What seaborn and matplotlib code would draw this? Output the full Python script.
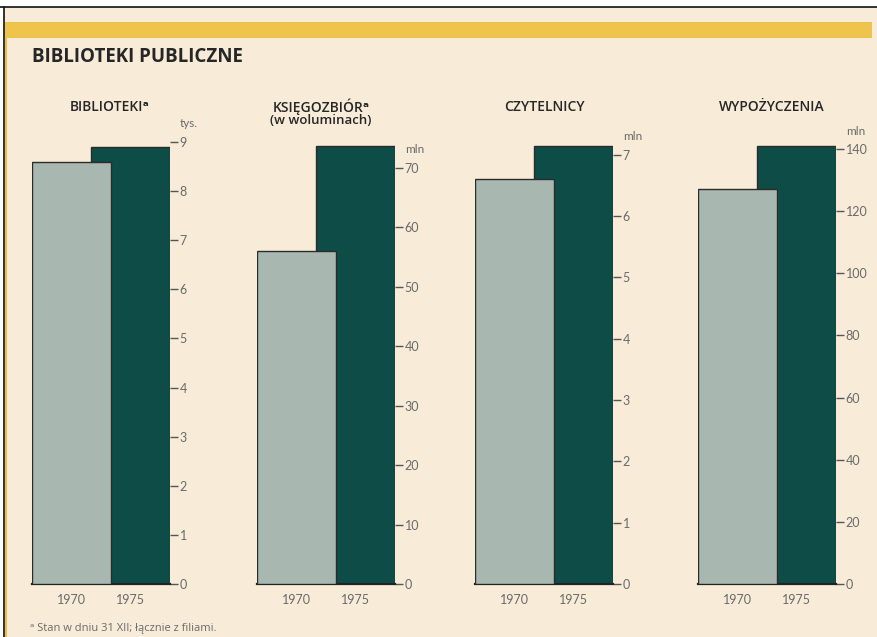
import matplotlib
matplotlib.use("Agg")
import matplotlib.pyplot as plt
from matplotlib.patches import Rectangle
from matplotlib.lines import Line2D
import seaborn as sns
import pandas as pd

# data
years = ["1970", "1975"]
biblioteki = [8.6, 8.9]        # tys.
ksiegozbior = [56.0, 73.7]     # mln woluminow
czytelnicy = [6.6, 7.15]       # mln
wypozyczenia = [127, 141]      # mln

panel_titles = ["BIBLIOTEKI\u1d43", "KSI\u0118GOZBI\u00d3R\u1d43", "CZYTELNICY", "WYPO\u017bYCZENIA"]
units = ["tys.", "mln", "mln", "mln"]
tick_values = [list(range(0, 10)), list(range(0, 80, 10)), list(range(0, 8)), list(range(0, 160, 20))]

W, H = 878, 637
BG = "#f8ecd9"
LIGHT = "#a8b8b0"
DARK = "#0e4d47"
INK = "#262626"
GREY = "#6a6a6a"
HEAD_FONT = ["Open Sans", "DejaVu Sans"]

sns.set_theme(style="white")
plt.rcParams["font.family"] = ["Lato", "DejaVu Sans"]

fig = plt.figure(figsize=(W / 100, H / 100), dpi=100, facecolor=BG)


def px(x, y):
    return x / W, 1 - y / H


# frame: white outer margin, black lines, yellow band
fig.patches.append(Rectangle((0, 1 - 7 / H), 1, 7 / H, transform=fig.transFigure,
                             facecolor="white", edgecolor="none", zorder=0))
fig.patches.append(Rectangle((0, 0), 4 / W, 1, transform=fig.transFigure,
                             facecolor="white", edgecolor="none", zorder=0))
fig.lines.append(Line2D([0, 1], [1 - 7 / H] * 2, transform=fig.transFigure, color="#111", lw=1.2))
fig.lines.append(Line2D([4 / W] * 2, [0, 1 - 7 / H], transform=fig.transFigure, color="#111", lw=1.2))
fig.lines.append(Line2D([6.5 / W] * 2, [0, 1 - 38 / H], transform=fig.transFigure, color="#e9bf4c", lw=1.5))
fig.patches.append(Rectangle(px(5, 38), 867 / W, 16 / H, transform=fig.transFigure,
                             facecolor="#eec44c", edgecolor="none", zorder=1))

fig.text(*px(32, 57), "BIBLIOTEKI PUBLICZNE", fontsize=13.5, fontweight="bold",
         family=HEAD_FONT, color=INK, va="center", ha="left")

# panel layout in pixels: left edge of axes, axis top value (at y=140px)
lefts = [32, 257, 475, 698]
title_cx = [110, 321, 544, 772]
ymax = [9.04, 74.7, 7.24, 142.9]
top_px, base_px, width_px = 140, 584, 138
bar_w = 1.33

series = [biblioteki, ksiegozbior, czytelnicy, wypozyczenia]

for i, vals in enumerate(series):
    x0, y0 = px(lefts[i], base_px)
    ax = fig.add_axes([x0, y0, width_px / W, (base_px - top_px) / H])
    ax.set_facecolor("none")

    df = pd.DataFrame({"pos": [0, 1], "val": vals, "rok": years})
    sns.barplot(data=df, x="pos", y="val", hue="rok", palette=[LIGHT, DARK],
                native_scale=True, width=bar_w, dodge=False, legend=False,
                saturation=1, edgecolor="#2b2b2b", linewidth=1.0, ax=ax)
    # light 1970 bar sits in front of the dark 1975 bar
    for p, z in zip(ax.patches, [3, 2]):
        p.set_zorder(z)

    ax.set_xlim(-bar_w / 2, 1 + bar_w / 2)
    ax.set_ylim(0, ymax[i])
    ax.set_xticks([0, 1])
    ax.set_xticklabels(years)
    ax.set_yticks(tick_values[i])
    ax.yaxis.tick_right()
    ax.tick_params(axis="y", direction="out", length=6, width=1.0, color="#555",
                   labelsize=9, labelcolor=GREY, pad=1)
    ax.tick_params(axis="x", length=0, labelsize=9, labelcolor=GREY, pad=7)
    ax.set_xlabel("")
    ax.set_ylabel("")
    for side in ["left", "right", "top"]:
        ax.spines[side].set_visible(False)
    ax.spines["bottom"].set_color("#222")
    ax.spines["bottom"].set_linewidth(1.6)

    ax.annotate(units[i], xy=(1, tick_values[i][-1]), xycoords=("axes fraction", "data"),
                xytext=(7, 9), textcoords="offset points", fontsize=8.5, color=GREY,
                ha="left", va="bottom")

    fig.text(*px(title_cx[i], 107), panel_titles[i], fontsize=10, fontweight="semibold",
             family=HEAD_FONT, color=INK, ha="center", va="center")

fig.text(*px(321, 121), "(w woluminach)", fontsize=9.5, fontweight="semibold",
         family=HEAD_FONT, color=INK, ha="center", va="center")

fig.text(*px(30, 628), "\u1d43 Stan w dniu 31 XII; \u0142\u0105cznie z filiami.", fontsize=8,
         family=HEAD_FONT, color=GREY, ha="left", va="center")

fig.savefig("out.png", dpi=100, facecolor=BG)
